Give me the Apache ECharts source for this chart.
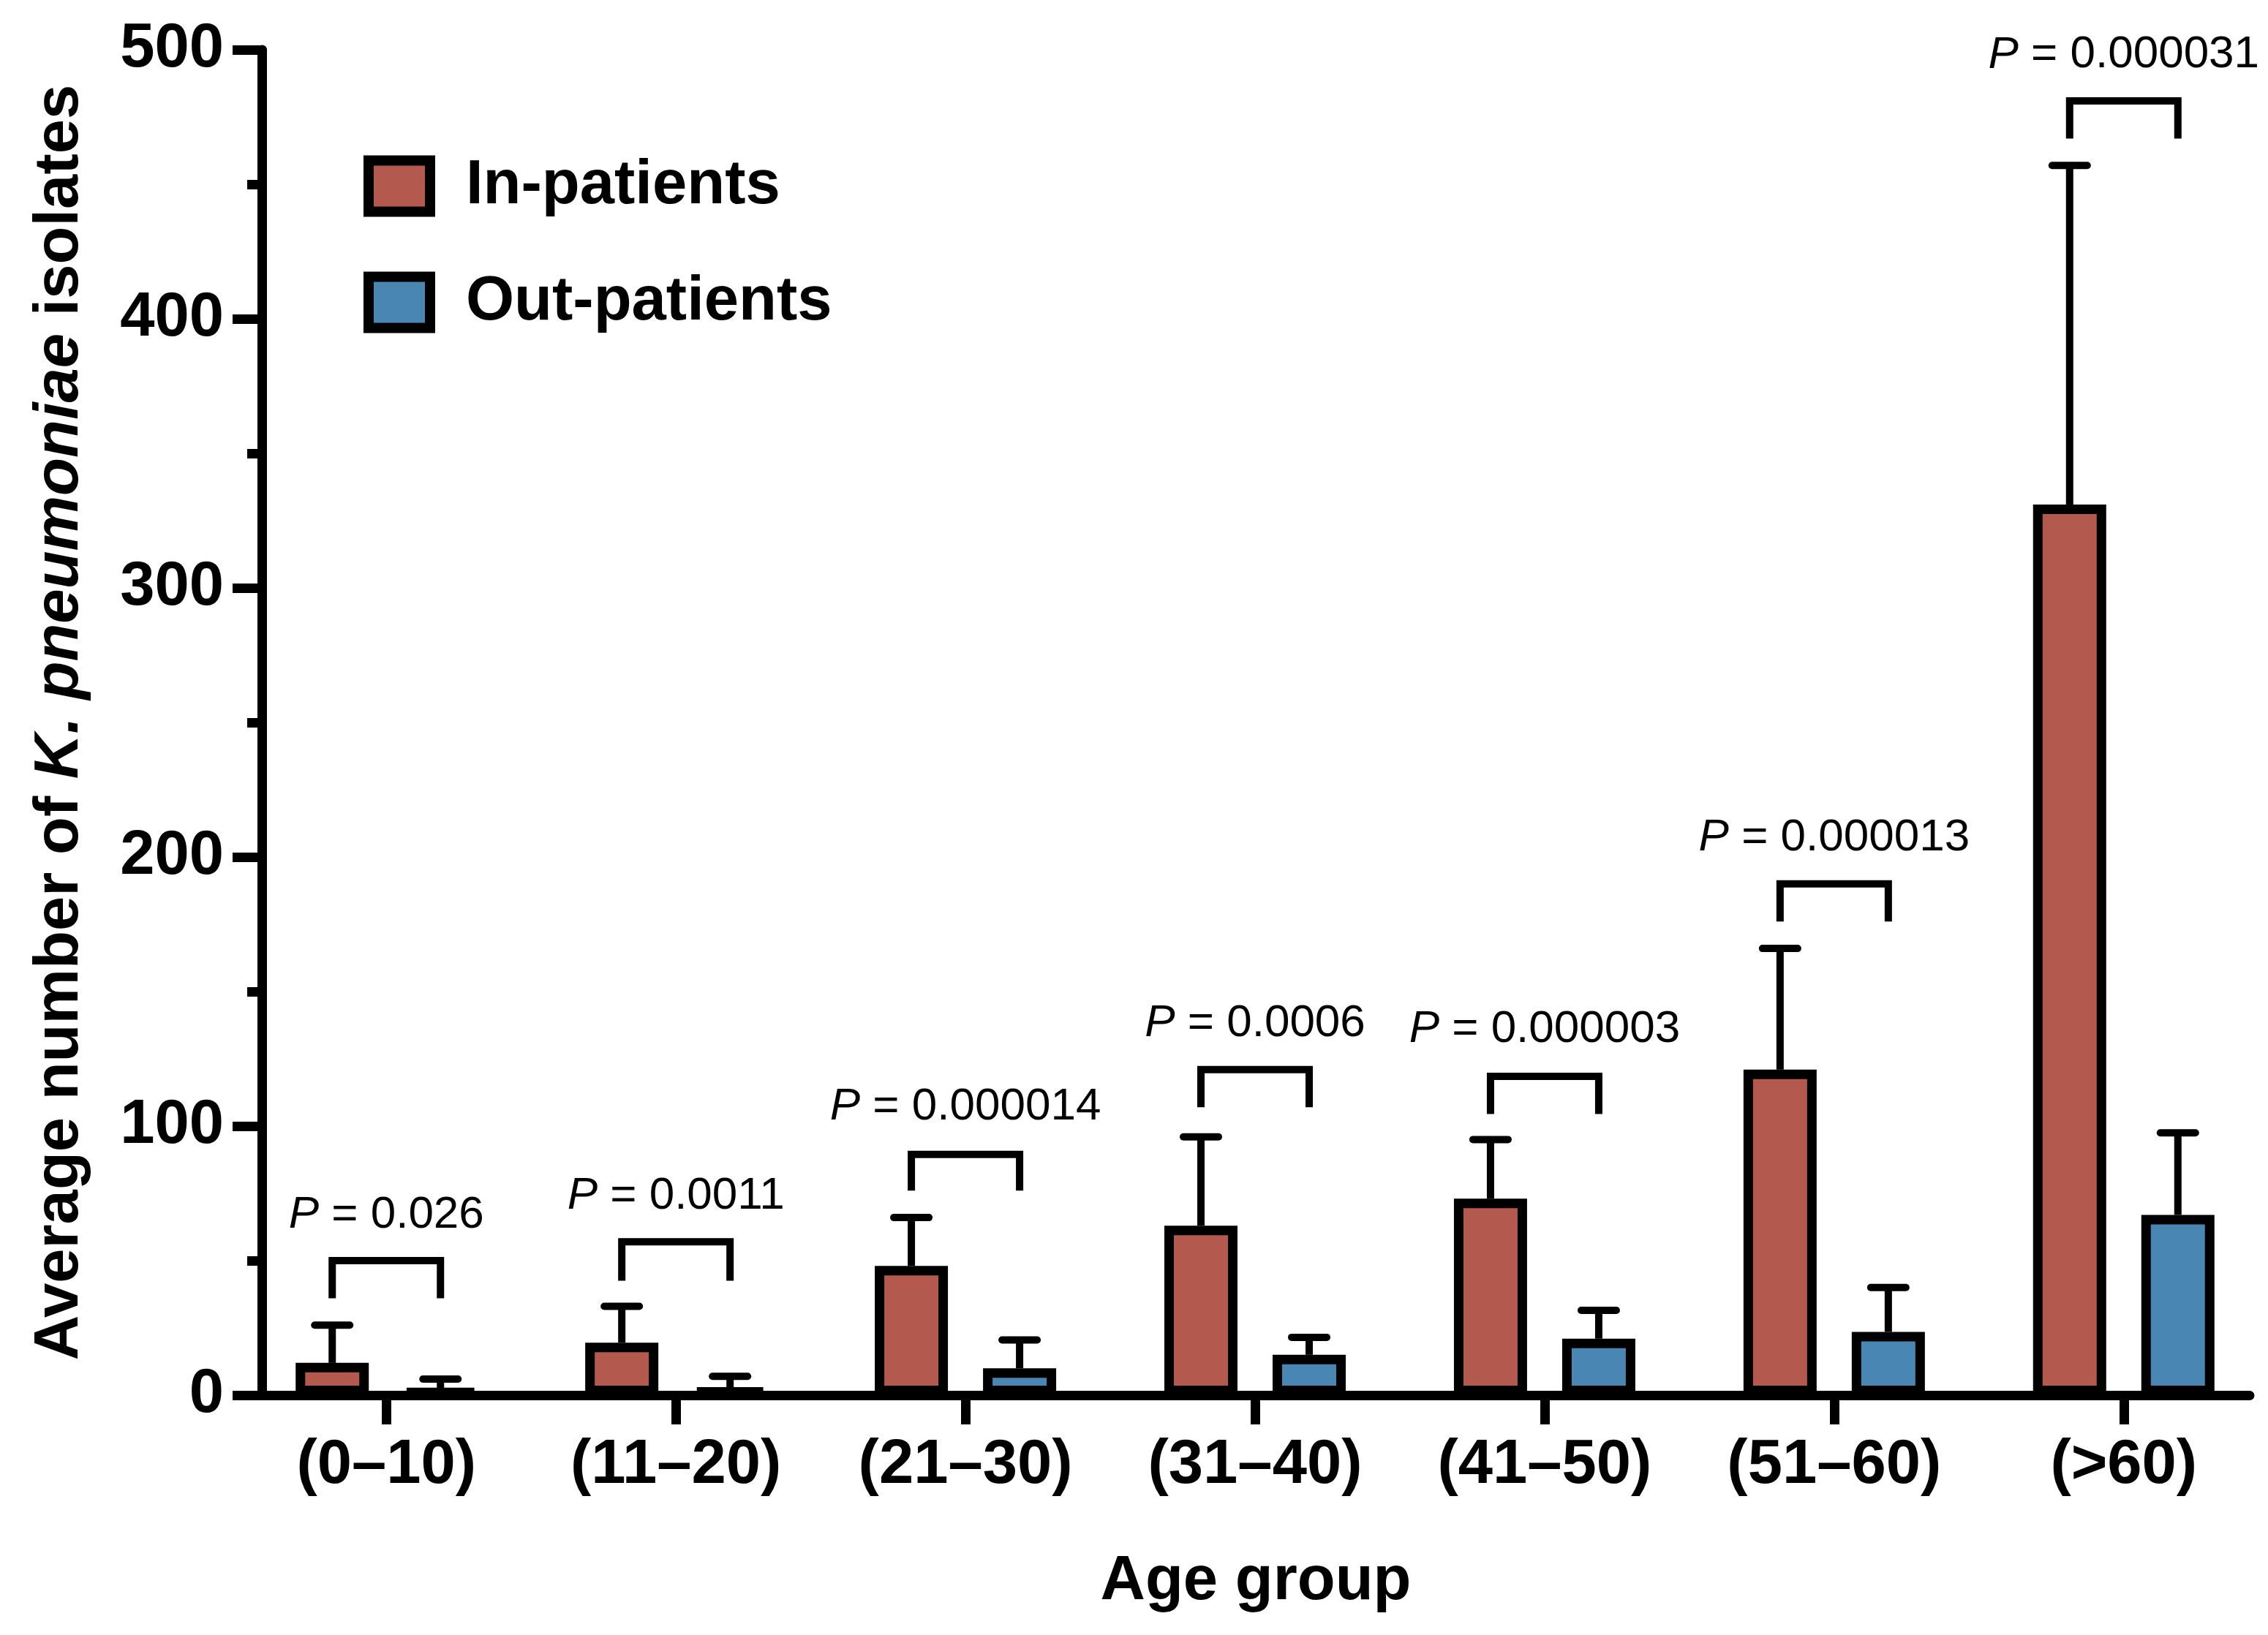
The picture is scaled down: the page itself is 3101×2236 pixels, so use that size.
<!DOCTYPE html>
<html>
<head>
<meta charset="utf-8">
<script src="https://cdn.jsdelivr.net/npm/echarts@6/dist/echarts.min.js"></script>
<style>
html, body { margin: 0; padding: 0; background: #fff; }
#main { width: 3101px; height: 2236px; }
</style>
</head>
<body>
<div id="main"></div>
<script>
// data
const categories = ['(0–10)', '(11–20)', '(21–30)', '(31–40)', '(41–50)', '(51–60)', '(>60)'];
const inPatients = [12, 19.5, 48, 63, 73, 121, 331];
const inPatientsSD = [14, 13.5, 18, 33, 22, 45, 126];
const outPatients = [2, 2.5, 10, 15, 21, 23.5, 67];
const outPatientsSD = [4, 4.5, 10.5, 6.5, 10.5, 16.5, 30.5];
const pValues = ['0.026', '0.0011', '0.000014', '0.0006', '0.000003', '0.000013', '0.000031'];
const bracketTop = [50, 57, 89.5, 121, 118.5, 190, 481];
const bracketLeg = [36, 42.5, 76, 107, 104.5, 176, 467];
const pLabelY = [67, 74, 107, 138, 136, 207, 498];
const yTicks = [0, 100, 200, 300, 400, 500];

const FONT = 'Liberation Sans, Arial, Helvetica, sans-serif';
const RED = '#B3594D';
const BLUE = '#4A86B3';
const BAR_W = 100;
const BAR_GAP = 0.48;
const BAR_OFFSET = BAR_W * (1 + BAR_GAP) / 2;
const CAP = 48;

const catIdx = categories.map((c, i) => i);

function errorItem(sign) {
    return function (params, api) {
        const i = api.value(0);
        const base = api.coord([i, api.value(1)]);
        const top = api.coord([i, api.value(1) + api.value(2)]);
        const x = base[0] + sign * BAR_OFFSET;
        return {
            type: 'group',
            children: [
                { type: 'line', shape: { x1: x, y1: base[1], x2: x, y2: top[1] },
                  style: { stroke: '#000', lineWidth: 10 } },
                { type: 'line', shape: { x1: x - CAP / 2, y1: top[1], x2: x + CAP / 2, y2: top[1] },
                  style: { stroke: '#000', lineWidth: 10, lineCap: 'round' } }
            ]
        };
    };
}

function bracketItem(params, api) {
    const i = api.value(0);
    const top = api.coord([i, api.value(1)])[1];
    const leg = api.coord([i, api.value(2)])[1];
    const mid = api.coord([i, api.value(3)]);
    const xl = mid[0] - BAR_OFFSET, xr = mid[0] + BAR_OFFSET;
    return {
        type: 'group',
        children: [
            { type: 'polyline', shape: { points: [[xl, leg], [xl, top], [xr, top], [xr, leg]] },
              style: { stroke: '#000', fill: 'none', lineWidth: 10, lineJoin: 'miter' } },
            { type: 'text',
              style: {
                  x: mid[0], y: mid[1],
                  text: '{i|P} = ' + pValues[params.dataIndex],
                  fontSize: 62, fontFamily: FONT, fill: '#000',
                  align: 'center', verticalAlign: 'middle',
                  rich: { i: { fontStyle: 'italic', fontSize: 62, fontFamily: FONT, fill: '#000' } }
              } }
        ]
    };
}

let chart = echarts.init(document.getElementById('main'));
option = {
    backgroundColor: '#fff',
    animation: false,
    textStyle: { fontFamily: FONT },
    grid: {
        left: 358,
        right: 25,
        top: 68,
        bottom: 328,
        containLabel: false,
        outerBoundsMode: 'none'
    },
    legend: {
        orient: 'vertical',
        left: 492,
        top: 207,
        itemWidth: 84,
        itemHeight: 70,
        itemGap: 74,
        icon: 'rect',
        itemStyle: { borderColor: '#000', borderWidth: 14 },
        textStyle: { fontSize: 85, fontWeight: 'bold', color: '#000', fontFamily: FONT, padding: [0, 0, 0, 44] },
        data: ['In-patients', 'Out-patients']
    },
    xAxis: {
        type: 'value',
        min: -0.43,
        max: 6.435,
        name: 'Age group',
        nameLocation: 'middle',
        nameGap: 213,
        nameTextStyle: { fontSize: 85, fontWeight: 'bold', color: '#000', fontFamily: FONT },
        axisLine: { show: true, onZero: true, lineStyle: { color: '#000', width: 13 } },
        axisTick: { show: true, length: 40, customValues: catIdx, lineStyle: { color: '#000', width: 13 } },
        axisLabel: {
            customValues: catIdx,
            formatter: v => categories[Math.round(v)],
            fontSize: 85, fontWeight: 'bold', color: '#000', fontFamily: FONT, margin: 54
        },
        splitLine: { show: false }
    },
    yAxis: {
        type: 'value',
        min: yTicks[0],
        max: yTicks[yTicks.length - 1],
        interval: 100,
        name: '{n|Average number of }{k|K. pneumoniae}{n| isolates}',
        nameLocation: 'middle',
        nameGap: 233,
        nameTextStyle: {
            rich: {
                n: { fontSize: 85, fontWeight: 'bold', color: '#000', fontFamily: FONT },
                k: { fontSize: 85, fontWeight: 'bold', fontStyle: 'italic', color: '#000', fontFamily: FONT }
            }
        },
        axisLine: { show: true, onZero: false, lineStyle: { color: '#000', width: 13 } },
        axisTick: { show: true, length: 40, lineStyle: { color: '#000', width: 13 } },
        minorTick: { show: true, splitNumber: 2, length: 20, lineStyle: { color: '#000', width: 13 } },
        axisLabel: { fontSize: 85, fontWeight: 'bold', color: '#000', fontFamily: FONT, margin: 52 },
        splitLine: { show: false }
    },
    series: [
        {
            name: 'inErr',
            type: 'custom',
            renderItem: errorItem(-1),
            encode: { x: 0, y: 1 },
            data: catIdx.map(i => [i, inPatients[i], inPatientsSD[i]]),
            z: 1
        },
        {
            name: 'outErr',
            type: 'custom',
            renderItem: errorItem(1),
            encode: { x: 0, y: 1 },
            data: catIdx.map(i => [i, outPatients[i], outPatientsSD[i]]),
            z: 1
        },
        {
            name: 'In-patients',
            type: 'bar',
            barWidth: BAR_W,
            barGap: Math.round(BAR_GAP * 100) + '%',
            itemStyle: { color: RED, borderColor: '#000', borderWidth: 13 },
            data: catIdx.map(i => [i, inPatients[i]]),
            z: 2
        },
        {
            name: 'Out-patients',
            type: 'bar',
            barWidth: BAR_W,
            barGap: Math.round(BAR_GAP * 100) + '%',
            itemStyle: { color: BLUE, borderColor: '#000', borderWidth: 13 },
            data: catIdx.map(i => [i, outPatients[i]]),
            z: 2
        },
        {
            name: 'brackets',
            type: 'custom',
            renderItem: bracketItem,
            encode: { x: 0, y: 1 },
            data: catIdx.map(i => [i, bracketTop[i], bracketLeg[i], pLabelY[i]]),
            z: 3
        }
    ]
};
chart.setOption(option);
</script>
</body>
</html>
